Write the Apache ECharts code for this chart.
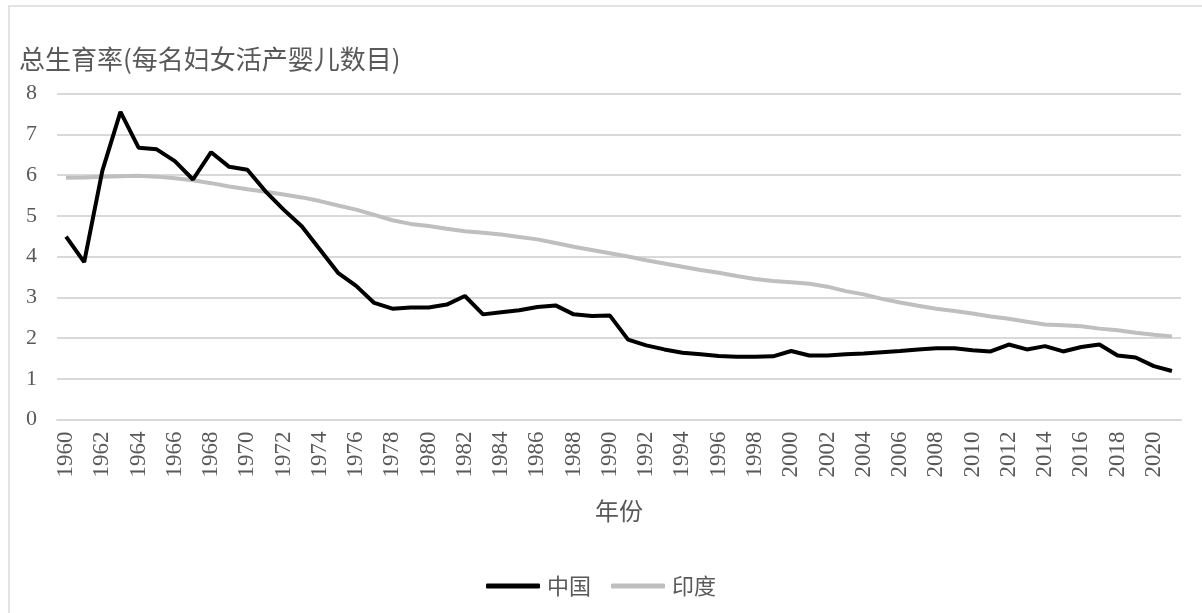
<!DOCTYPE html>
<html>
<head>
<meta charset="utf-8">
<script src="https://cdn.jsdelivr.net/npm/echarts@6/dist/echarts.min.js"></script>
<style>
  body{
    margin: 0;
    background: #fff;
  }
  .frame{
    position: absolute;
    left: 8px;
    top: 5px;
    width: 1300px;
    height: 700px;
    border: 2px solid #e3e3e3;
  }
  #main{
    position: absolute;
    left: 0;
    top: 0;
    width: 1202px;
    height: 613px;
  }
</style>
</head>
<body>
<div class="frame"></div>
<div id="main"></div>
<script>
  // 年份
  var years = ['1960','1961','1962','1963','1964','1965','1966','1967','1968','1969',
    '1970','1971','1972','1973','1974','1975','1976','1977','1978','1979',
    '1980','1981','1982','1983','1984','1985','1986','1987','1988','1989',
    '1990','1991','1992','1993','1994','1995','1996','1997','1998','1999',
    '2000','2001','2002','2003','2004','2005','2006','2007','2008','2009',
    '2010','2011','2012','2013','2014','2015','2016','2017','2018','2019',
    '2020','2021'];
  // 中国 总生育率
  var china = [4.49,3.86,6.1,7.55,6.67,6.63,6.34,5.89,6.56,6.2,
    6.13,5.6,5.15,4.74,4.17,3.6,3.28,2.86,2.72,2.75,
    2.75,2.82,3.03,2.58,2.63,2.68,2.76,2.8,2.58,2.54,
    2.55,1.96,1.82,1.72,1.64,1.6,1.56,1.54,1.54,1.55,
    1.68,1.57,1.57,1.6,1.62,1.65,1.68,1.72,1.75,1.75,
    1.7,1.67,1.84,1.72,1.8,1.67,1.78,1.84,1.57,1.52,
    1.31,1.19];
  // 印度 总生育率
  var india = [5.93,5.94,5.96,5.97,5.98,5.96,5.92,5.87,5.8,5.72,
    5.65,5.59,5.52,5.45,5.36,5.25,5.15,5.02,4.89,4.8,
    4.75,4.68,4.62,4.58,4.54,4.48,4.42,4.33,4.24,4.16,
    4.08,4.0,3.91,3.83,3.75,3.67,3.6,3.52,3.45,3.4,
    3.37,3.33,3.26,3.15,3.07,2.96,2.87,2.79,2.72,2.66,
    2.6,2.53,2.47,2.4,2.33,2.31,2.29,2.23,2.19,2.13,
    2.08,2.04];
  var seriesNames = ['中国','印度'];

  var cjk = '"Noto Sans CJK SC", sans-serif';
  var serif = '"Liberation Serif", serif';

  var chart = echarts.init(document.getElementById('main'));
  chart.setOption({
    animation: false,
    title: {
      text: '总生育率(每名妇女活产婴儿数目)',
      left: 14,
      top: 41,
      textStyle: {
        fontFamily: cjk,
        fontSize: 26,
        fontWeight: 'normal',
        color: '#595959'
      }
    },
    grid: {
      left: 57,
      right: 21,
      top: 93.5,
      bottom: 193.5
    },
    legend: {
      data: seriesNames,
      top: 570,
      left: 'center',
      icon: 'roundRect',
      itemWidth: 54,
      itemHeight: 5,
      itemGap: 20,
      textStyle: {
        fontFamily: cjk,
        fontSize: 22,
        color: '#595959',
        padding: [0, 0, 0, 2]
      }
    },
    xAxis: {
      type: 'category',
      data: years,
      boundaryGap: true,
      name: '年份',
      nameLocation: 'middle',
      nameGap: 79,
      nameTextStyle: {
        fontFamily: cjk,
        fontSize: 24,
        color: '#595959'
      },
      axisLine: {show: true, lineStyle: {color: '#d9d9d9', width: 2}},
      axisTick: {show: false},
      axisLabel: {
        interval: 1,
        rotate: 90,
        margin: 12,
        fontFamily: serif,
        fontSize: 23,
        color: '#595959'
      }
    },
    yAxis: {
      type: 'value',
      min: 0,
      max: 8,
      interval: 1,
      axisLine: {show: false},
      axisTick: {show: false},
      splitLine: {lineStyle: {color: '#d9d9d9', width: 2}},
      axisLabel: {
        margin: 20,
        fontFamily: serif,
        fontSize: 22,
        color: '#595959'
      }
    },
    series: [
      {
        name: seriesNames[0],
        type: 'line',
        data: china,
        symbol: 'none',
        z: 3,
        lineStyle: {color: '#000000', width: 4},
        itemStyle: {color: '#000000'}
      },
      {
        name: seriesNames[1],
        type: 'line',
        data: india,
        symbol: 'none',
        z: 2,
        lineStyle: {color: '#bfbfbf', width: 4},
        itemStyle: {color: '#bfbfbf'}
      }
    ]
  });
</script>
</body>
</html>
